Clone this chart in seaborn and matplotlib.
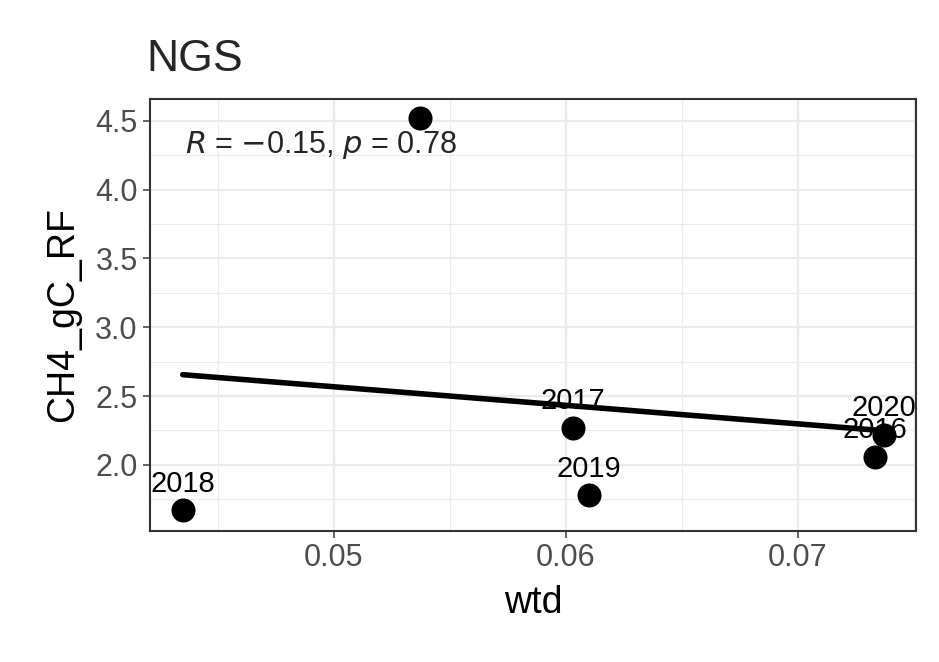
import numpy as np
import matplotlib.pyplot as plt
import pandas as pd
import seaborn as sns

wtd = [0.0435, 0.0537, 0.0603, 0.0610, 0.0733, 0.0737]
ch4 = [1.67, 4.52, 2.27, 1.78, 2.06, 2.22]
years = ["2018", "", "2017", "2019", "2016", "2020"]

df = pd.DataFrame({"wtd": wtd, "CH4_gC_RF": ch4, "year": years})

sns.set_style("whitegrid")
plt.rcParams['font.family'] = ['Liberation Sans', 'DejaVu Sans']

fig = plt.figure(figsize=(9.39, 6.62), dpi=100)
ax = fig.add_axes([0.160, 0.198, 0.816, 0.653])

sns.regplot(data=df, x="wtd", y="CH4_gC_RF", ci=None, ax=ax,
            scatter_kws=dict(s=300, color="black", alpha=1, zorder=3, linewidths=0),
            line_kws=dict(color="black", lw=4))
for _, r in df.iterrows():
    if r["year"]:
        ax.text(r["wtd"], r["CH4_gC_RF"] + 0.09, r["year"], ha="center", va="bottom",
                fontsize=21, color="black", clip_on=True)

ax.set_xlim(0.0421, 0.0751)
ax.set_ylim(1.52, 4.66)
ax.set_xticks([0.05, 0.06, 0.07])
ax.set_xticklabels(["0.05", "0.06", "0.07"])
ax.set_yticks([2.0, 2.5, 3.0, 3.5, 4.0, 4.5])
ax.set_xticks([0.045, 0.055, 0.065, 0.075], minor=True)
ax.set_yticks([1.75, 2.25, 2.75, 3.25, 3.75, 4.25], minor=True)
ax.grid(True, which="major", color="#ebebeb", lw=1.6)
ax.grid(True, which="minor", color="#ebebeb", lw=0.8)
for s in ax.spines.values():
    s.set_color("#333333")
    s.set_linewidth(1.5)
ax.tick_params(axis="both", which="major", labelsize=22, colors="#4d4d4d", length=5, width=1.2,
               left=True, bottom=True, pad=4)
ax.tick_params(which="minor", length=0)
ax.set_xlabel("wtd", fontsize=27, color="black", labelpad=8)
ax.set_ylabel("CH4_gC_RF", fontsize=27, color="black", labelpad=10)
ax.set_title("NGS", fontsize=32, loc="left", x=-0.005, pad=20)

ax.text(0.0436, 4.32, r"$R$ = $-$0.15, $p$ = 0.78", fontsize=22, va="center")

fig.savefig("out.png", dpi=100)
